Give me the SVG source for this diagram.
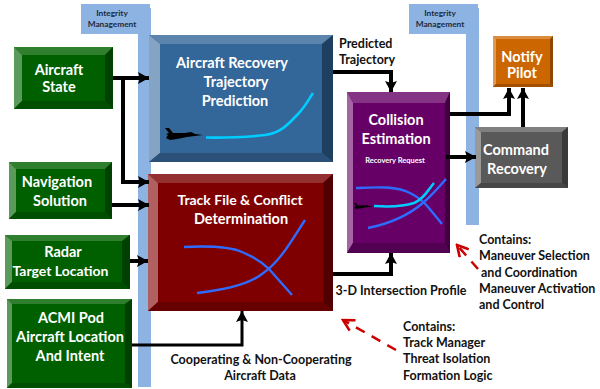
<svg xmlns="http://www.w3.org/2000/svg" width="600" height="389" viewBox="0 0 600 389">
<style>
text{font-family:Lato,"Liberation Sans",sans-serif;font-weight:700;text-anchor:middle}
.w{fill:#fff;font-size:14.5px}
.k{fill:#111;font-size:12.5px}
.s{fill:#1a2a40;font-size:8.3px}
.l{text-anchor:start}
.c{fill:none;stroke:#000;stroke-width:4}
.r{fill:none;stroke:#c00;stroke-width:2.5;stroke-dasharray:10 8}
.b{fill:none;stroke:#2f6bff;stroke-width:2.4}
.y{fill:none;stroke:#00ccff;stroke-width:2.6}
.im{fill:#8db3e2}
.j{fill:#000}
</style>
<defs>
<marker id="a" markerUnits="userSpaceOnUse" markerWidth="12" markerHeight="14" refX="11" refY="7" orient="auto"><path d="M0 1L11 7L0 13L2 7Z" fill="#000"/></marker>
<marker id="d" markerUnits="userSpaceOnUse" markerWidth="14" markerHeight="14" refX="12" refY="7" orient="auto"><path d="M1 1L12 7L1 13" fill="none" stroke="#c00" stroke-width="2.6"/></marker>
<g id="jet"><path class="j" d="M0 0L4 0L8 5L20 5L26 4L30 6L38 7L30 8L22 9L12 11L5 12L1 10L3 7L1 6L4 5Z"/></g>
</defs>
<g id="integrity-1"><path class="im" d="M81 4H150V8H151V387H138V34H81Z"/><text class="s" x="112" y="16">Integrity</text><text class="s" x="112" y="27">Management</text></g>
<g id="integrity-2"><path class="im" d="M409 4H478V8H479V225H466V34H409Z"/><text class="s" x="440" y="16">Integrity</text><text class="s" x="440" y="27">Management</text></g>

<g id="aircraft-state"><rect x="14" y="47" width="99" height="62" fill="#006000"/><path d="M14 47H113L105 55H22Z" fill="#2f7f2f"/><path d="M14 47L22 55V101L14 109Z" fill="#5a9a5a"/><path d="M113 47V109L105 101V55Z" fill="#004000"/><path d="M14 109H113L105 101H22Z" fill="#004f00"/><text class="w" x="59" y="75">Aircraft</text><text class="w" x="59" y="92">State</text></g>
<g id="navigation-solution"><rect x="9" y="162" width="103" height="57" fill="#006000"/><path d="M9 162H112L105 169H16Z" fill="#2f7f2f"/><path d="M9 162L16 169V212L9 219Z" fill="#5a9a5a"/><path d="M112 162V219L105 212V169Z" fill="#004000"/><path d="M9 219H112L105 212H16Z" fill="#004f00"/><text class="w" x="57" y="187">Navigation</text><text class="w" x="60" y="206">Solution</text></g>
<g id="radar-target"><rect x="5" y="235" width="125" height="54" fill="#006000"/><path d="M5 235H130L123 241H12Z" fill="#2f7f2f"/><path d="M5 235L12 241V282L5 289Z" fill="#5a9a5a"/><path d="M130 235V289L122 282V241Z" fill="#004000"/><path d="M5 289H130L122 282H12Z" fill="#004f00"/><text class="w" x="63" y="257">Radar</text><text class="w" x="60.500" y="276" style="font-size:14px">Target Location</text></g>
<g id="acmi-pod"><rect x="7" y="299" width="125" height="89" fill="#006000"/><path d="M7 299H132L125 304H12Z" fill="#2f7f2f"/><path d="M7 299L12 304V383L7 388Z" fill="#5a9a5a"/><path d="M132 299V388L125 383V304Z" fill="#004000"/><path d="M7 388H132L125 383H12Z" fill="#004f00"/><text class="w" x="71" y="323">ACMI Pod</text><text class="w" x="70" y="342">Aircraft Location</text><text class="w" x="70" y="361">And Intent</text></g>

<g id="trajectory-prediction"><rect x="149" y="35" width="184" height="127" fill="#336699"/><path d="M149 35H333L322 44H160Z" fill="#5c85ad"/><path d="M149 35L160 44V153L149 162Z" fill="#85a3c2"/><path d="M333 35V162L322 153V44Z" fill="#1f3f60"/><path d="M149 162H333L322 153H160Z" fill="#2b5178"/><text class="w" x="232" y="68">Aircraft Recovery</text><text class="w" x="236" y="87">Trajectory</text><text class="w" x="235" y="106">Prediction</text><path class="y" d="M206 137.500C222 138 250 137 265 135C282 133 290 122 298 114C305 107 309 99 313 93"/><use href="#jet" x="165" y="128"/></g>
<g id="track-file"><rect x="148" y="174" width="185" height="137" fill="#7f0000"/><path d="M148 174H333L323 183H158Z" fill="#953030"/><path d="M148 174L158 183V302L148 311Z" fill="#b06060"/><path d="M333 174V311L323 302V183Z" fill="#500000"/><path d="M148 311H333L323 302H158Z" fill="#660000"/><text class="w" x="240" y="205" style="font-size:14px">Track File &amp; Conflict</text><text class="w" x="241" y="224">Determination</text><path class="b" d="M184 247C205 246 228 246 242 252C254 257 262 262 269 269C277 278 284 286 292 295"/><path class="b" d="M197 293C225 290 248 285 262 274C280 262 292 240 305 220"/></g>
<g id="collision-estimation"><rect x="347" y="92" width="103" height="161" fill="#660066"/><path d="M347 92H450L445 103H353Z" fill="#853385"/><path d="M347 92L353 103V243L347 253Z" fill="#a366a3"/><path d="M450 92V253L445 243V103Z" fill="#400040"/><path d="M347 253H450L445 243H353Z" fill="#520052"/><text class="w" x="396" y="125">Collision</text><text class="w" x="396" y="144">Estimation</text><text fill="#fff" style="font-size:7.500px" x="395" y="163">Recovery Request</text><path class="b" d="M356 188C378 187 396 186 410 193C420 198 424 202 428 207C433 213 438 219 442 224"/><path class="b" d="M368 228C388 224 408 216 424 202C432 195 440 186 446 179"/><path class="y" d="M374 206C390 207 405 206 414 203C424 199 428 190 434 183"/><use href="#jet" transform="translate(354 203) scale(.5)"/></g>
<g id="notify-pilot"><rect x="493" y="36" width="60" height="51" fill="#cc6600"/><path d="M493 36H553L550 39H496Z" fill="#d98c40"/><path d="M493 36L496 39V84L493 87Z" fill="#e09a55"/><path d="M553 36V87L550 84V39Z" fill="#8f4700"/><path d="M493 87H553L550 84H496Z" fill="#a35100"/><text class="w" x="522" y="62">Notify</text><text class="w" x="522" y="78">Pilot</text></g>
<g id="command-recovery"><rect x="475" y="127" width="93" height="61" fill="#595959"/><path d="M475 127H568L562 132H481Z" fill="#808080"/><path d="M475 127L481 132V183L475 188Z" fill="#999"/><path d="M568 127V188L562 183V132Z" fill="#3a3a3a"/><path d="M475 188H568L562 183H481Z" fill="#474747"/><text class="w" x="516" y="155">Command</text><text class="w" x="517" y="174">Recovery</text></g>

<g id="connectors">
<path class="c" d="M113 78H149" marker-end="url(#a)"/>
<path class="c" d="M123 78V182H149" marker-end="url(#a)"/>
<path class="c" d="M112 205H149" marker-end="url(#a)"/>
<path class="c" d="M130 261H148" marker-end="url(#a)"/>
<path class="c" d="M132 345H242V311" style="stroke-width:3" marker-end="url(#a)"/>
<path class="c" d="M333 72H391V92" marker-end="url(#a)"/>
<path class="c" d="M333 274H391V253" marker-end="url(#a)"/>
<path class="c" d="M450 114H509V88" marker-end="url(#a)"/>
<path class="c" d="M523 127V88" marker-end="url(#a)"/>
<path class="c" d="M446 157H476" marker-end="url(#a)"/>
<path class="r" d="M478 269L457 245" marker-end="url(#d)"/>
<path class="r" d="M396 350L343 320" marker-end="url(#d)"/>
</g>
<g id="labels">
<text class="k l" x="339" y="48">Predicted</text><text class="k l" x="339" y="64">Trajectory</text>
<text class="k" x="401" y="295">3-D Intersection Profile</text>
<text class="k" x="261" y="364">Cooperating &amp; Non-Cooperating</text><text class="k" x="260" y="380">Aircraft Data</text>
<text class="k l" x="479" y="244">Contains:</text><text class="k l" x="479" y="260">Maneuver Selection</text><text class="k l" x="481" y="277">and Coordination</text><text class="k l" x="479" y="293">Maneuver Activation</text><text class="k l" x="479" y="309">and Control</text>
<text class="k l" x="403" y="331">Contains:</text><text class="k l" x="403" y="347">Track Manager</text><text class="k l" x="403" y="363">Threat Isolation</text><text class="k l" x="403" y="380">Formation Logic</text>
</g>
</svg>
